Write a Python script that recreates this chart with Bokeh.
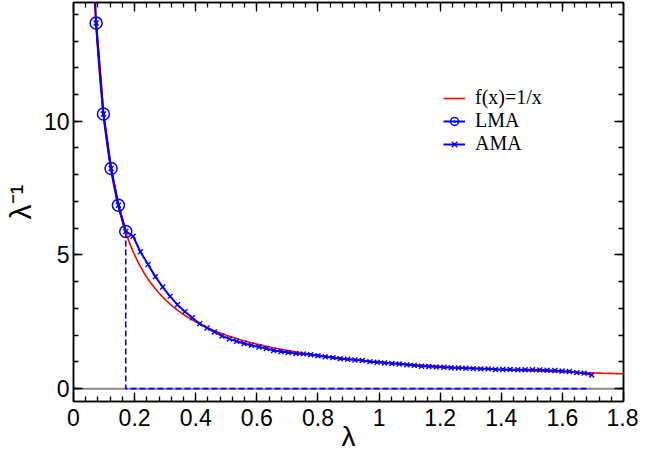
from bokeh.plotting import figure
from bokeh.models import (Range1d, LinearAxis, FixedTicker, Span, Legend, LegendItem,
                          CustomJSTickFormatter)
from bokeh.embed import file_html
from bokeh.resources import INLINE
import numpy as np

# ---------------- data ----------------
x_ticks = [0, 0.2, 0.4, 0.6, 0.8, 1, 1.2, 1.4, 1.6, 1.8]
x_tick_labels = ["0", "0.2", "0.4", "0.6", "0.8", "1", "1.2", "1.4", "1.6", "1.8"]
y_ticks = [0, 5, 10]
y_tick_labels = ["0", "5", "10"]

lma_x = [0.074, 0.098, 0.123, 0.147, 0.171]
lma_y = [13.67, 10.27, 8.23, 6.86, 5.88]

ama_x = [0.050, 0.074, 0.098, 0.123, 0.147, 0.171,
         0.195, 0.219, 0.244, 0.268, 0.292, 0.316, 0.340, 0.365, 0.389, 0.413,
         0.437, 0.461, 0.486, 0.510, 0.534, 0.558, 0.582, 0.607, 0.631, 0.655,
         0.679, 0.703, 0.728, 0.752, 0.776, 0.800, 0.824, 0.849, 0.873, 0.897,
         0.921, 0.945, 0.970, 0.994, 1.018, 1.042, 1.066, 1.091, 1.115, 1.139,
         1.163, 1.187, 1.212, 1.236, 1.260, 1.284, 1.308, 1.333, 1.357, 1.381,
         1.405, 1.429, 1.454, 1.478, 1.502, 1.526, 1.550, 1.575, 1.599, 1.623,
         1.647, 1.671, 1.696]
ama_y = [20.0, 13.67, 10.27, 8.23, 6.86, 5.88,
         5.70, 5.12, 4.64, 4.19, 3.80, 3.45, 3.14, 2.88, 2.65, 2.43,
         2.27, 2.12, 1.97, 1.86, 1.77, 1.69, 1.62, 1.56, 1.50, 1.43,
         1.39, 1.35, 1.31, 1.30, 1.27, 1.23, 1.19, 1.16, 1.12, 1.10,
         1.07, 1.05, 1.01, 0.99, 0.96, 0.94, 0.92, 0.89, 0.87, 0.84,
         0.83, 0.81, 0.80, 0.78, 0.77, 0.76, 0.75, 0.74, 0.74, 0.72,
         0.72, 0.72, 0.71, 0.71, 0.71, 0.70, 0.69, 0.68, 0.66, 0.64,
         0.60, 0.58, 0.51]

bound_x = [0.171, 0.171, 1.690]
bound_y = [5.88, 0.0, 0.0]

# the plotted function f(x) = 1/x
fx = np.linspace(0.06, 1.8, 500)
fy = 1.0 / fx

# ---------------- figure ----------------
FONT = "Liberation Serif, Times New Roman, serif"
p = figure(width=638, height=454, output_backend="svg", toolbar_location=None,
           x_range=Range1d(0, 1.8), y_range=Range1d(-0.48, 14.44))
p.min_border_left = 67
p.min_border_right = 15
p.min_border_top = 2
p.min_border_bottom = 40
p.grid.visible = False
p.outline_line_color = "black"
p.outline_line_width = 1.5
p.background_fill_color = "white"
p.border_fill_color = "white"

x_minor = [round(0.04 * i, 2) for i in range(1, 45)]
y_minor = [float(v) for v in range(0, 15)]

def style_axis(ax, ticker):
    ax.ticker = ticker
    ax.major_tick_in = 9
    ax.major_tick_out = 0
    ax.minor_tick_in = 5
    ax.minor_tick_out = 0
    ax.major_tick_line_color = "black"
    ax.minor_tick_line_color = "black"
    ax.major_tick_line_width = 1.3
    ax.minor_tick_line_width = 1.3
    ax.axis_line_color = "black"
    ax.axis_line_width = 1.5
    ax.major_label_text_font_size = "23px"
    ax.major_label_text_color = "black"
    ax.axis_label_text_font_style = "normal"
    ax.axis_label_text_color = "black"

xt = FixedTicker(ticks=x_ticks, minor_ticks=x_minor)
yt = FixedTicker(ticks=y_ticks, minor_ticks=y_minor)

xa = p.xaxis[0]
style_axis(xa, xt)
xa.major_label_overrides = dict(zip(x_ticks, x_tick_labels))
xa.major_label_standoff = 7
xa.axis_label = "λ"
xa.axis_label_text_font_size = "28px"
xa.axis_label_standoff = -8

ya = p.yaxis[0]
style_axis(ya, yt)
ya.major_label_overrides = dict(zip(y_ticks, y_tick_labels))
ya.major_label_standoff = 4
ya.major_label_orientation = "horizontal"
ya.axis_label = "λ⁻¹"
ya.axis_label_text_font_size = "30px"
ya.axis_label_standoff = 4

blank = CustomJSTickFormatter(code="return ''")
ta = LinearAxis(formatter=blank)
style_axis(ta, FixedTicker(ticks=x_ticks, minor_ticks=x_minor))
ta.major_label_text_font_size = "1px"
ta.major_label_standoff = 0
p.add_layout(ta, "above")
ra = LinearAxis(formatter=blank)
style_axis(ra, FixedTicker(ticks=y_ticks, minor_ticks=y_minor))
ra.major_label_text_font_size = "1px"
ra.major_label_standoff = 0
p.add_layout(ra, "right")

zero = Span(location=0, dimension="width", line_color="#888888", line_width=2,
            level="underlay")
p.add_layout(zero)

bound = p.line(bound_x, bound_y, line_color="blue", line_width=1.6, line_dash="6 3")
red = p.line(fx, fy, line_color="red", line_width=1.6)
ama_line = p.line(ama_x, ama_y, line_color="blue", line_width=2)
ama_sc = p.scatter(ama_x, ama_y, marker="x", size=7, line_color="blue", line_width=1.4)
lma_line = p.line(lma_x, lma_y, line_color="blue", line_width=2)
lma_sc = p.scatter(lma_x, lma_y, marker="circle_dot", size=12, line_color="blue",
                   line_width=1.5, fill_color=None)

legend = Legend(items=[
    LegendItem(label="f(x)=1/x", renderers=[red]),
    LegendItem(label="LMA", renderers=[lma_line, lma_sc]),
    LegendItem(label="AMA", renderers=[ama_line, ama_sc]),
], location=(370, 246))
legend.label_text_font = FONT
legend.label_text_font_size = "20px"
legend.label_text_color = "black"
legend.glyph_width = 22
legend.glyph_height = 20
legend.label_height = 21
legend.label_standoff = 10
legend.spacing = 0
legend.padding = 0
legend.margin = 0
legend.border_line_alpha = 0
legend.background_fill_alpha = 0
p.add_layout(legend)

open("out.html", "w").write(file_html(p, INLINE))
